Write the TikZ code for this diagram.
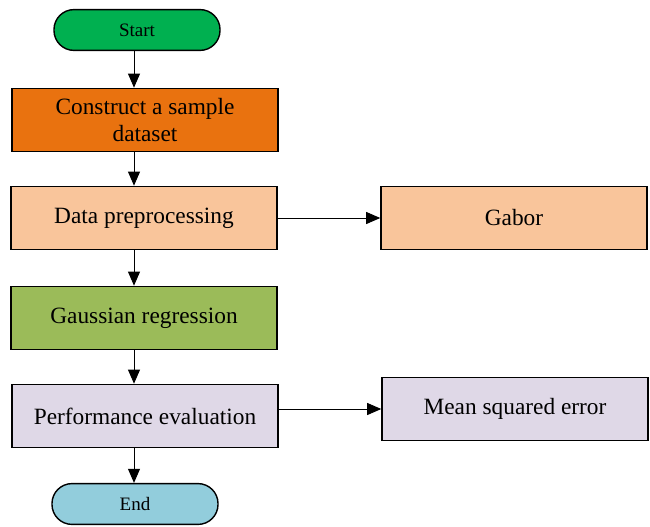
\documentclass[tikz,border=0pt]{standalone}
\usepackage{fontspec}
\setmainfont{Liberation Serif}
\usepackage{xcolor}
\definecolor{startgreen}{HTML}{00B050}
\definecolor{buildorange}{HTML}{E9720F}
\definecolor{peach}{HTML}{F9C59B}
\definecolor{leafgreen}{HTML}{9BBB59}
\definecolor{lavender}{HTML}{DFD8E7}
\definecolor{aqua}{HTML}{92CDDC}
\usepackage{tikz}
\usetikzlibrary{arrows.meta}

\begin{document}
\begin{tikzpicture}[x=0.025cm, y=-0.025cm]

\useasboundingbox (0,0) rectangle (650,526);

\tikzstyle{term}=[
	rectangle,
	rounded corners=0.5cm,
	draw=black,
	line width=1pt,
	minimum width=4.15cm,
	minimum height=1.02cm,
	font=\fontsize{13.5}{15}\selectfont
]
\tikzstyle{proc}=[
	rectangle,
	draw=black,
	line width=1pt,
	minimum width=6.65cm,
	minimum height=1.58cm,
	align=center,
	font=\fontsize{16.6}{19}\selectfont
]
\tikzstyle{arr}=[-{Triangle[length=10pt, width=8.5pt]}, line width=0.7pt]

\coordinate (spine) at (134, 0);

\node[term, fill=startgreen] (start) at (137, 30) {Start};
\node[proc, fill=buildorange] (sample) at (145, 120) {Construct a sample\\dataset};
\node[proc, fill=peach] (prep) at (144, 218) {Data preprocessing};
\node[proc, fill=peach] (gabor) at (514, 218) {Gabor};
\node[proc, fill=leafgreen] (gauss) at (144, 318) {Gaussian regression};
\node[proc, fill=lavender] (perf) at (145, 416) {Performance evaluation};
\node[proc, fill=lavender] (mse) at (515, 409) {Mean squared error};
\node[term, fill=aqua] (end) at (135, 504) {End};

\draw[arr] (start.south -| spine) -- (sample.north -| spine);
\draw[arr] (sample.south -| spine) -- (prep.north -| spine);
\draw[arr] (prep.south -| spine) -- (gauss.north -| spine);
\draw[arr] (gauss.south -| spine) -- (perf.north -| spine);
\draw[arr] (perf.south -| spine) -- (end.north -| spine);

\draw[arr] (prep.east) -- (gabor.west);
\draw[arr] (perf.east |- mse) -- (mse.west);

\end{tikzpicture}
\end{document}
